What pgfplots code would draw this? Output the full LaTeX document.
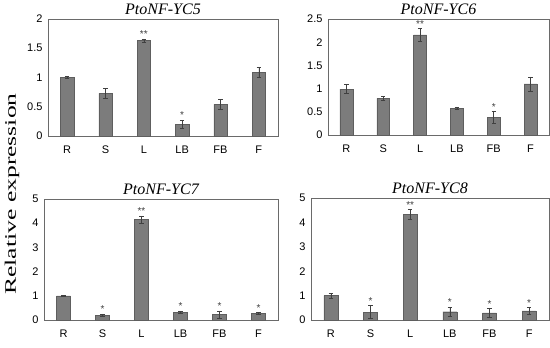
\documentclass[border=0pt]{standalone}
\usepackage{pgfplots}
\pgfplotsset{compat=1.18}
\usepackage{graphicx}
\usepackage{fontspec}
\setmainfont{Liberation Serif}
\newfontfamily\arial{Liberation Sans}
\definecolor{barfill}{HTML}{7C7C7C}
\definecolor{baredge}{HTML}{5E5E5E}
\definecolor{errc}{HTML}{404040}
\definecolor{framec}{HTML}{6A6A6A}
\tikzset{star/.style={font=\arial\fontsize{10}{10}\selectfont, text=errc, anchor=south, inner sep=0.5pt}}
\pgfplotsset{
  panel/.style={
    scale only axis,
    anchor=south west,
    xmin=-0.5, xmax=5.5, ymin=0,
    xtick={0,1,2,3,4,5},
    xticklabels={R,S,L,LB,FB,F},
    major tick length=0pt,
    axis line style={framec, line width=0.6pt},
    tick label style={font=\arial\fontsize{11}{12}\selectfont, text=black},
    /pgf/number format/assume math mode=true,
    yticklabel style={/pgf/number format/fixed},
    xticklabel style={yshift=-6pt},
    yticklabel style={xshift=-2pt},
    title style={font=\fontsize{16}{18}\selectfont\itshape, yshift=-5pt},
    clip=false,
  },
  barplot/.style={
    ybar, bar width=0.35, fill=barfill, draw=baredge, line width=0.4pt,
    error bars/.cd, y dir=both, y explicit,
    error bar style={errc, line width=0.6pt},
    error mark options={rotate=90, errc, mark size=2.2pt, line width=0.6pt},
  },
}
\begin{document}
\begin{tikzpicture}[x=1pt,y=1pt]
\useasboundingbox (0,0) rectangle (550,348);
% Y label
\node at (12,154) {\rotatebox{90}{\scalebox{1.6}[1]{\fontsize{16}{18}\selectfont Relative expression}}};

% Panel YC5
\begin{axis}[panel, at={(48pt,212pt)}, width=230pt, height=117pt,
  ymax=2, ytick={0,0.5,1,1.5,2}, title={PtoNF-YC5}]
\addplot[barplot] table[x=x,y=y,y error=e] {
x y e
0 1.00 0.02
1 0.73 0.08
2 1.63 0.03
3 0.20 0.07
4 0.54 0.09
5 1.09 0.09
};
\node[star] at (axis cs:2,1.67) {**};
\node[star] at (axis cs:3,0.28) {*};
\end{axis}

% Panel YC6
\begin{axis}[panel, at={(328pt,213pt)}, width=221pt, height=116pt,
  ymax=2.5, ytick={0,0.5,1,1.5,2,2.5}, title={PtoNF-YC6}]
\addplot[barplot] table[x=x,y=y,y error=e] {
x y e
0 0.99 0.10
1 0.79 0.05
2 2.16 0.13
3 0.575 0.03
4 0.38 0.12
5 1.10 0.15
};
\node[star] at (axis cs:2,2.30) {**};
\node[star] at (axis cs:4,0.51) {*};
\end{axis}

% Panel YC7
\begin{axis}[panel, at={(44pt,28pt)}, width=234pt, height=121pt,
  ymax=5, ytick={0,1,2,3,4,5}, title={PtoNF-YC7}]
\addplot[barplot] table[x=x,y=y,y error=e] {
x y e
0 1.00 0.02
1 0.20 0.05
2 4.15 0.15
3 0.33 0.05
4 0.23 0.15
5 0.28 0.03
};
\node[star] at (axis cs:2,4.32) {**};
\node[star] at (axis cs:1,0.27) {*};
\node[star] at (axis cs:3,0.40) {*};
\node[star] at (axis cs:4,0.40) {*};
\node[star] at (axis cs:5,0.33) {*};
\end{axis}

% Panel YC8
\begin{axis}[panel, at={(311pt,28pt)}, width=238pt, height=122pt,
  ymax=5, ytick={0,1,2,3,4,5}, title={PtoNF-YC8}]
\addplot[barplot] table[x=x,y=y,y error=e] {
x y e
0 1.00 0.10
1 0.32 0.27
2 4.32 0.20
3 0.34 0.20
4 0.29 0.17
5 0.37 0.15
};
\node[star] at (axis cs:2,4.54) {**};
\node[star] at (axis cs:1,0.61) {*};
\node[star] at (axis cs:3,0.56) {*};
\node[star] at (axis cs:4,0.48) {*};
\node[star] at (axis cs:5,0.54) {*};
\end{axis}
\end{tikzpicture}
\end{document}
